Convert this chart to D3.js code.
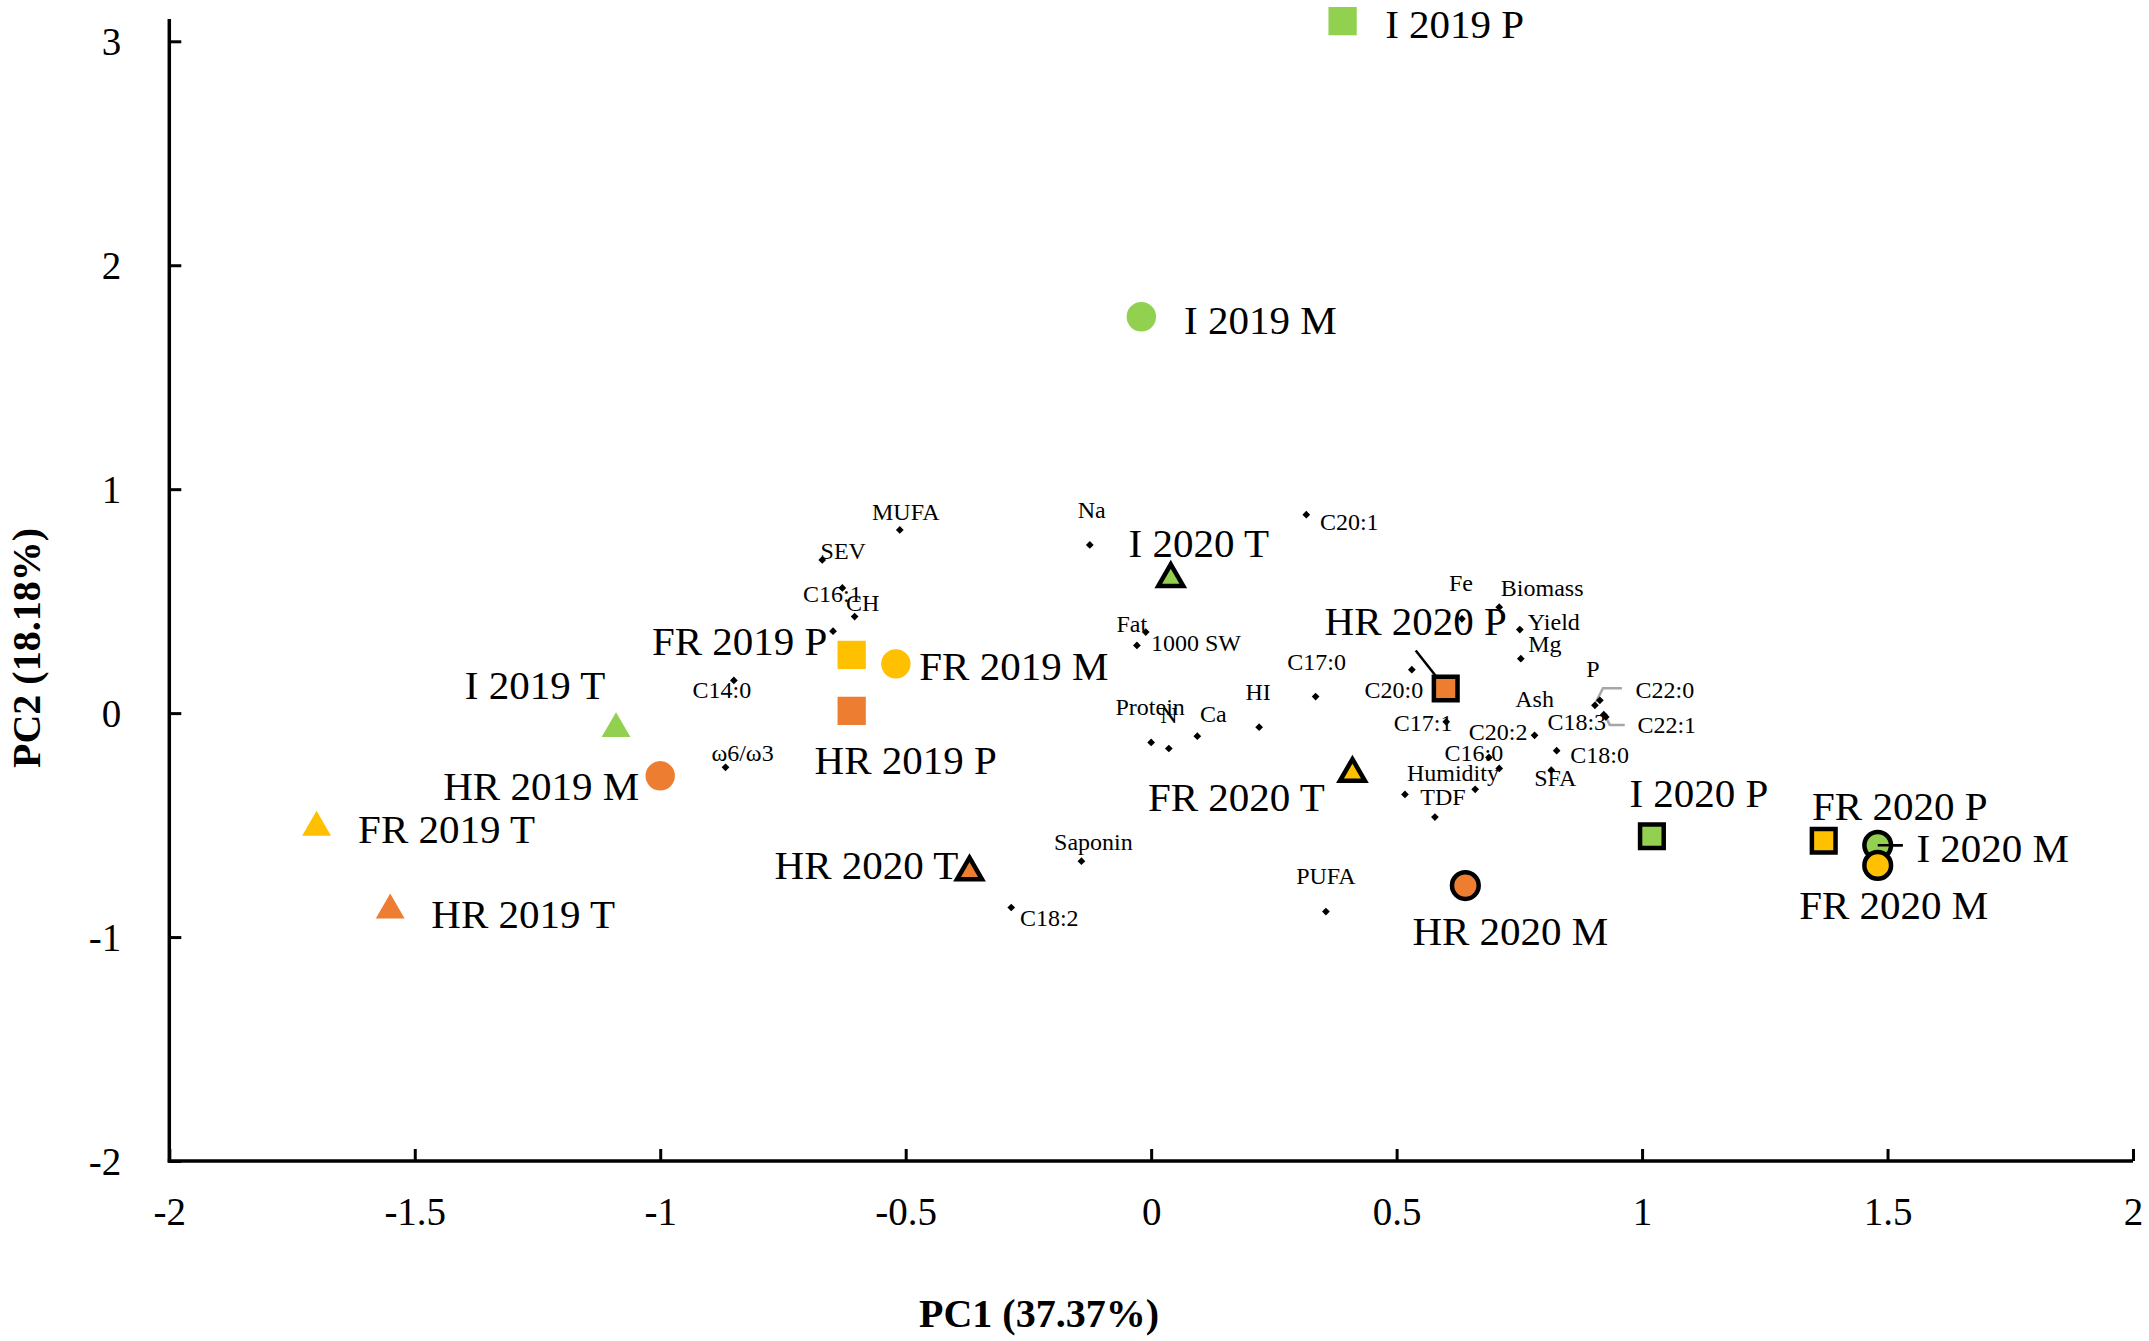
<!DOCTYPE html>
<html>
<head>
<meta charset="utf-8">
<script src="https://cdn.jsdelivr.net/npm/d3@7"></script>
<style>
  body { margin: 0; background: #fff; }
  text { font-family: "Liberation Serif", "Times New Roman", serif; fill: #000; }
</style>
</head>
<body>
<script>
// samples (site year stage) - PC scores
var sampleNames = ['I 2019 P', 'I 2019 M', 'I 2019 T', 'FR 2019 P', 'FR 2019 M', 'FR 2019 T',
                   'HR 2019 P', 'HR 2019 M', 'HR 2019 T', 'I 2020 P', 'I 2020 M', 'I 2020 T',
                   'FR 2020 P', 'FR 2020 M', 'FR 2020 T', 'HR 2020 P', 'HR 2020 M', 'HR 2020 T'];
var sampleSite = ['I', 'I', 'I', 'FR', 'FR', 'FR', 'HR', 'HR', 'HR',
                  'I', 'I', 'I', 'FR', 'FR', 'FR', 'HR', 'HR', 'HR'];
var sampleYear = [2019, 2019, 2019, 2019, 2019, 2019, 2019, 2019, 2019,
                  2020, 2020, 2020, 2020, 2020, 2020, 2020, 2020, 2020];
var sampleStage = ['P', 'M', 'T', 'P', 'M', 'T', 'P', 'M', 'T',
                   'P', 'M', 'T', 'P', 'M', 'T', 'P', 'M', 'T'];
var samplePC1 = [0.39, -0.02, -1.09, -0.61, -0.52, -1.70, -0.61, -1.00, -1.55,
                 1.02, 1.48, 0.04, 1.37, 1.48, 0.41, 0.60, 0.64, -0.37];
var samplePC2 = [3.09, 1.77, -0.07, 0.26, 0.22, -0.51, 0.01, -0.28, -0.88,
                 -0.55, -0.59, 0.60, -0.57, -0.68, -0.27, 0.11, -0.77, -0.71];

// variables (loadings)
var varNames = ['MUFA', 'SEV', 'C16:1', 'CH', '', 'C14:0', 'ω6/ω3', 'Na', 'C20:1', 'Fat',
                '1000 SW', 'Protein', 'N', 'Ca', 'HI', 'C17:0', 'C20:0', 'Fe', 'Biomass', 'Yield',
                'Mg', 'C22:0', 'P', 'C18:3', 'C22:1', 'Ash', 'C20:2', 'C17:1', 'C16:0', 'Humidity',
                'TDF', 'C18:0', 'SFA', '', 'Saponin', 'C18:2', 'PUFA'];
var varPC1 = [-0.512, -0.670, -0.629, -0.604, -0.648, -0.850, -0.867, -0.125, 0.316, -0.011,
              -0.029, 0.000, 0.036, 0.094, 0.220, 0.335, 0.531, 0.633, 0.709, 0.751,
              0.753, 0.904, 0.914, 0.922, 0.926, 0.781, 0.709, 0.601, 0.688, 0.578,
              0.517, 0.826, 0.815, 0.660, -0.142, -0.285, 0.356];
var varPC2 = [0.818, 0.684, 0.559, 0.431, 0.366, 0.146, -0.242, 0.751, 0.886, 0.362,
              0.302, -0.131, -0.158, -0.103, -0.063, 0.074, 0.194, 0.421, 0.473, 0.373,
              0.243, 0.035, 0.057, -0.007, -0.017, -0.099, -0.247, -0.039, -0.198, -0.464,
              -0.363, -0.168, -0.255, -0.340, -0.661, -0.868, -0.886];

var xTicks = [-2, -1.5, -1, -0.5, 0, 0.5, 1, 1.5, 2];
var yTicks = [-2, -1, 0, 1, 2, 3];
var xTitle = 'PC1 (37.37%)';
var yTitle = 'PC2 (18.18%)';

// label placement (pixel offsets from the point), as dragged in the original
var sampleNudge = {
  'I 2019 P': [112, 3], 'I 2019 M': [119, 3], 'I 2019 T': [-81, -44],
  'FR 2019 P': [-112, -14], 'FR 2019 M': [118, 2], 'FR 2019 T': [130, 1],
  'HR 2019 P': [54, 49], 'HR 2019 M': [-119, 10], 'HR 2019 T': [133, 3],
  'I 2020 P': [47, -44], 'I 2020 M': [115, 2], 'I 2020 T': [28, -36],
  'FR 2020 P': [76, -35], 'FR 2020 M': [16, 39], 'FR 2020 T': [-116, 23],
  'HR 2020 P': [-30, -68], 'HR 2020 M': [45, 45], 'HR 2020 T': [-103, -7]
};
var varNudge = {
  'MUFA': [6, -18], 'SEV': [21, -9], 'C16:1': [-10, 6], 'CH': [8, -14], 'C14:0': [-12, 9],
  'ω6/ω3': [17, -15], 'Na': [2, -35], 'C20:1': [43, 7], 'Fat': [-14, -8], '1000 SW': [59, -3],
  'Protein': [-1, -36], 'N': [0, -34], 'Ca': [16, -23], 'HI': [-1, -36], 'C17:0': [1, -35],
  'C20:0': [-18, 20], 'Fe': [-1, -36], 'Biomass': [43, -20], 'Yield': [34, -8], 'Mg': [24, -15],
  'C22:0': [70, -16], 'P': [-7, -32], 'C18:3': [-27, 7], 'C22:1': [61, 8], 'Ash': [0, -37],
  'C20:2': [-1, -37], 'C17:1': [-23, 1], 'C16:0': [-15, -5], 'Humidity': [18, -44], 'TDF': [38, 2],
  'C18:0': [43, 4], 'SFA': [4, 7], 'Saponin': [12, -20], 'C18:2': [38, 10], 'PUFA': [0, -36]
};
var leaders = {
  'HR 2020 P': { pts: [[0, 0], [-30, -38]], color: '#000' },
  'I 2020 M': { pts: [[0, 0], [25, 0]], color: '#000' },
  'C22:0': { pts: [[1, -3], [8, -17], [27, -17]], color: '#a6a6a6' },
  'C22:1': { pts: [[1, 2], [4, 8], [19, 8]], color: '#a6a6a6' }
};

var siteColor = { 'I': '#92D050', 'FR': '#FFC000', 'HR': '#ED7D31' };
var stageShape = { 'P': d3.symbolSquare, 'M': d3.symbolCircle, 'T': d3.symbolTriangle };
var sizePlain = { 'P': 800, 'M': 680, 'T': 360 };
var sizeEdged = { 'P': 560, 'M': 560, 'T': 270 };

var svgWidth = 2149, svgHeight = 1341;

var xScale = d3.scaleLinear().domain([-2, 2]).range([169.3, 2133]);
var yScale = d3.scaleLinear().domain([-2, 3]).range([1161, 41.3]);

var svg = d3.select('body')
    .append('svg')
    .attr('width', svgWidth)
    .attr('height', svgHeight);

svg.append('rect').attr('width', svgWidth).attr('height', svgHeight).attr('fill', '#fff');

// axes
var xAxis = d3.axisBottom(xScale)
    .tickValues(xTicks)
    .tickSizeInner(-12)
    .tickSizeOuter(0)
    .tickPadding(36)
    .tickFormat(function(d) { return String(d); });

var yAxis = d3.axisLeft(yScale)
    .tickValues(yTicks)
    .tickSizeInner(-12)
    .tickSizeOuter(0)
    .tickPadding(48)
    .tickFormat(function(d) { return String(d); });

var gx = svg.append('g')
    .attr('transform', 'translate(0,' + yScale(-2) + ')')
    .call(xAxis);
var gy = svg.append('g')
    .attr('transform', 'translate(' + xScale(-2) + ',0)')
    .call(yAxis);

[gx, gy].forEach(function(g) {
    g.select('.domain').remove();
    g.selectAll('.tick line').attr('stroke', '#000').attr('stroke-width', 3);
    g.selectAll('.tick text')
        .style('font-family', '"Liberation Serif", "Times New Roman", serif')
        .style('font-size', '39px');
});
gy.selectAll('.tick text').attr('dy', '0.35em');

svg.append('line')
    .attr('x1', xScale(-2)).attr('x2', xScale(-2))
    .attr('y1', yScale(3.1)).attr('y2', yScale(-2) + 1.5)
    .attr('stroke', '#000').attr('stroke-width', 3.5);
svg.append('line')
    .attr('x1', xScale(-2) - 1.5).attr('x2', xScale(2))
    .attr('y1', yScale(-2)).attr('y2', yScale(-2))
    .attr('stroke', '#000').attr('stroke-width', 3.5);

// axis titles
svg.append('text')
    .attr('x', 1039).attr('y', 1327)
    .attr('text-anchor', 'middle')
    .style('font-size', '40px').style('font-weight', 'bold')
    .text(xTitle);
svg.append('text')
    .attr('transform', 'translate(40,648) rotate(-90)')
    .attr('text-anchor', 'middle')
    .style('font-size', '40px').style('font-weight', 'bold')
    .text(yTitle);

function drawLeader(key, px, py) {
    var l = leaders[key];
    if (!l) return;
    svg.append('path')
        .attr('d', d3.line()(l.pts.map(function(p) { return [px + p[0], py + p[1]]; })))
        .attr('fill', 'none')
        .attr('stroke', l.color)
        .attr('stroke-width', 2.5);
}

// variables: small diamonds
var vars = varNames.map(function(n, i) { return { name: n, x: varPC1[i], y: varPC2[i] }; });

vars.forEach(function(d) {
    drawLeader(d.name, xScale(d.x), yScale(d.y));
});

svg.append('g').selectAll('path')
    .data(vars)
    .join('path')
    .attr('transform', function(d) { return 'translate(' + xScale(d.x) + ',' + yScale(d.y) + ') rotate(45)'; })
    .attr('d', d3.symbol().type(d3.symbolSquare).size(30))
    .attr('fill', '#000');

svg.append('g').selectAll('text')
    .data(vars.filter(function(d) { return d.name !== ''; }))
    .join('text')
    .attr('x', function(d) { return xScale(d.x) + varNudge[d.name][0]; })
    .attr('y', function(d) { return yScale(d.y) + varNudge[d.name][1]; })
    .attr('text-anchor', 'middle')
    .attr('dy', '0.35em')
    .style('font-size', '24px')
    .text(function(d) { return d.name; });

// samples
var samples = sampleNames.map(function(n, i) {
    return { name: n, site: sampleSite[i], year: sampleYear[i], stage: sampleStage[i],
             x: samplePC1[i], y: samplePC2[i] };
});

samples.forEach(function(d) {
    drawLeader(d.name, xScale(d.x), yScale(d.y));
});

svg.append('g').selectAll('path')
    .data(samples)
    .join('path')
    .attr('transform', function(d) { return 'translate(' + xScale(d.x) + ',' + yScale(d.y) + ')'; })
    .attr('d', function(d) {
        var s = d.year === 2020 ? sizeEdged[d.stage] : sizePlain[d.stage];
        return d3.symbol().type(stageShape[d.stage]).size(s)();
    })
    .attr('fill', function(d) { return siteColor[d.site]; })
    .attr('stroke', function(d) { return d.year === 2020 ? '#000' : 'none'; })
    .attr('stroke-width', 4.5)
    .attr('stroke-linejoin', 'miter');

// leader for I 2020 M sits on top of its circle
svg.append('path')
    .attr('d', d3.line()(leaders['I 2020 M'].pts.map(function(p) {
        return [xScale(samplePC1[10]) + p[0], yScale(samplePC2[10]) + p[1]];
    })))
    .attr('stroke', '#000').attr('stroke-width', 2.5).attr('fill', 'none');

svg.append('g').selectAll('text')
    .data(samples)
    .join('text')
    .attr('x', function(d) { return xScale(d.x) + sampleNudge[d.name][0]; })
    .attr('y', function(d) { return yScale(d.y) + sampleNudge[d.name][1]; })
    .attr('text-anchor', 'middle')
    .attr('dy', '0.35em')
    .style('font-size', '41px')
    .text(function(d) { return d.name; });
</script>
</body>
</html>
